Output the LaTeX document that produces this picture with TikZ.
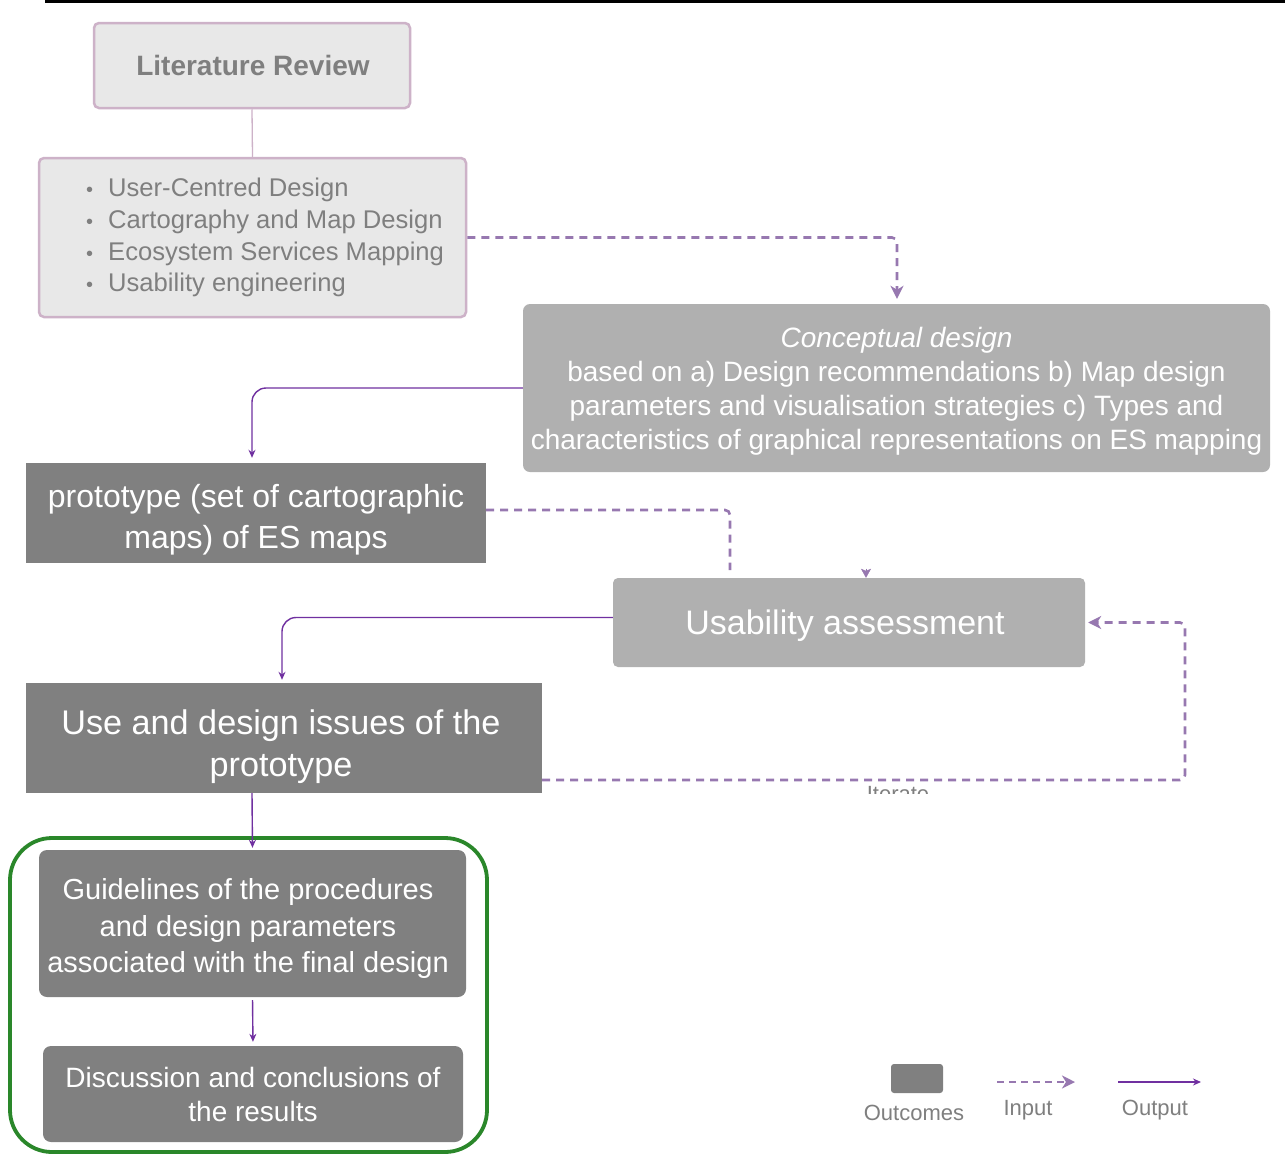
\documentclass[tikz,border=0pt]{standalone}
\usepackage{fontspec}
\setmainfont{Liberation Sans}
\usetikzlibrary{arrows.meta}
\definecolor{litfill}{HTML}{E8E8E8}
\definecolor{litedge}{HTML}{CDB2C8}
\definecolor{softtext}{HTML}{7F7F7F}
\definecolor{midgray}{HTML}{B0B0B0}
\definecolor{deepgray}{HTML}{808080}
\definecolor{outpurple}{HTML}{7030A0}
\definecolor{inpurple}{HTML}{9778B0}
\definecolor{groupgreen}{HTML}{2A872A}
\newcommand{\fs}[2]{\fontsize{#1}{#2}\selectfont}
\begin{document}
\begin{tikzpicture}[x=1pt,y=-1pt,
  litbox/.style={draw=litedge, line width=2.5pt, fill=litfill, rounded corners=5pt, inner sep=0pt},
  lightbox/.style={fill=midgray, rounded corners=7pt, inner sep=0pt},
  deepbox/.style={fill=deepgray, inner sep=0pt},
  boxlabel/.style={text=white, align=center, inner sep=0pt},
  inarrow/.style={draw=inpurple, line width=2.6pt, dash pattern=on 8pt off 6pt, rounded corners=5pt,
                  -{Stealth[length=13pt,width=13pt,inset=4pt]}},
  outarrow/.style={draw=outpurple, line width=1.4pt, rounded corners=14pt,
                   -{Stealth[length=8pt,width=7pt]}},
  legtext/.style={text=softtext, font=\fs{22}{24}, inner sep=0pt}
]
\useasboundingbox (0,0) rectangle (1285,1157);
\fill[white] (0,0) rectangle (1285,1157);
% top rule
\fill[black] (45,0) rectangle (1285,3);

% outcome group frame
\draw[groupgreen, line width=3.8pt, rounded corners=42pt] (10,838) rectangle (487,1152);

% literature boxes
\node[litbox, minimum width=316pt, minimum height=85pt] (lit) at (252,65.5) {};
\node[text=softtext, font=\bfseries\fs{28}{30}, inner sep=0pt] (littitle) at (253,65.5) {Literature Review};
\node[litbox, minimum width=427pt, minimum height=159pt] (topics) at (252.5,237.5) {};
\node[text=softtext, font=\fs{25.6}{31.7}, inner sep=0pt, anchor=west, align=left] (topiclist) at (86,238)
  {\begin{tabular}{@{}l@{\hspace{15pt}}l@{}}
   {\fs{20}{31.7}\textbullet} & User-Centred Design\\
   {\fs{20}{31.7}\textbullet} & Cartography and Map Design\\
   {\fs{20}{31.7}\textbullet} & Ecosystem Services Mapping\\
   {\fs{20}{31.7}\textbullet} & Usability engineering
   \end{tabular}};

% process boxes
\node[lightbox, minimum width=747pt, minimum height=168pt] (concept) at (896.5,388) {};
\node[boxlabel, font=\fs{28}{34}] (conceptlabel) at (896.5,391)
  {\itshape Conceptual design\\
   based on a) Design recommendations b) Map design\\
   parameters and visualisation strategies c) Types and\\
   characteristics of graphical representations on ES mapping};
\node[deepbox, minimum width=460pt, minimum height=100pt] (proto) at (256,513) {};
\node[boxlabel, font=\fs{32}{41}] (protolabel) at (256,520)
  {prototype (set of cartographic\\ maps) of ES maps};
\node[lightbox, rounded corners=5pt, minimum width=472pt, minimum height=89pt] (usab) at (849,622.5) {};
\node[boxlabel, font=\fs{34}{40}] (usablabel) at (845,626) {Usability assessment};
\node[deepbox, minimum width=516pt, minimum height=110pt] (issues) at (284,738) {};
\node[boxlabel, font=\fs{34.2}{42}] (issueslabel) at (281,747)
  {Use and design issues of the\\ prototype};
\node[deepbox, rounded corners=8pt, minimum width=427pt, minimum height=147pt] (guide) at (252.5,923.5) {};
\node[boxlabel, font=\fs{29}{36.5}] (guidelabel) at (248,928.5)
  {Guidelines of the procedures\\ and design parameters\\ associated with the final design};
\node[deepbox, rounded corners=8pt, minimum width=420pt, minimum height=96pt] (disc) at (253,1094) {};
\node[boxlabel, font=\fs{28}{34}] (disclabel) at (253,1094)
  {Discussion and conclusions of\\ the results};

% iteration label, partly hidden below the loop
\begin{scope}
  \clip (820,770) rectangle (980,793);
  \node[text=softtext, font=\fs{22}{24}, inner sep=0pt, anchor=base] (iter) at (898,801) {Iterate};
\end{scope}

% connectors
\draw[litedge, line width=1.3pt] (lit.south) -- (topics.north);
\draw[inarrow, shorten >=5pt] (topics.east) -| ([xshift=0.5pt]concept.north);
\draw[outarrow, shorten >=5pt] (concept.west) -| ([xshift=-4pt]proto.north);
\coordinate (drop) at (730,570);
\draw[inarrow, -] ([yshift=3pt]proto.east) -| (drop);
\draw[draw=inpurple, line width=0.5pt, -{Stealth[length=9pt,width=10pt,inset=2pt]}, fill=inpurple]
  ([xshift=17pt, yshift=9pt]usab.north) -- ([xshift=17pt]usab.north);
\draw[outarrow, shorten >=3pt] ([yshift=5pt]usab.west) -| ([xshift=-2pt]issues.north);
\coordinate (loopcorner) at (1185,780);
\draw[inarrow, shorten >=3pt] ([yshift=-42pt]issues.east) -- (loopcorner) |- (usab.east);
\draw[outarrow, shorten >=2pt] ([xshift=-32pt]issues.south) -- (guide.north);
\draw[outarrow, shorten >=4pt, shorten <=3pt] (guide.south) -- (disc.north);

% legend
\node[fill=deepgray, rounded corners=3pt, minimum width=52pt, minimum height=29pt, inner sep=0pt] (legbox) at (917,1078.5) {};
\node[legtext, anchor=base] (legout) at (914,1120) {Outcomes};
\coordinate (inA) at (997,1082);
\coordinate (inB) at (1075,1082);
\draw[inarrow, line width=2.2pt, dash pattern=on 7pt off 5pt] (inA) -- (inB);
\node[legtext, anchor=base] (legin) at (1028,1115) {Input};
\coordinate (outA) at (1118,1082);
\coordinate (outB) at (1201,1082);
\draw[outarrow] (outA) -- (outB);
\node[legtext, anchor=base] (legoutput) at (1155,1115) {Output};
\end{tikzpicture}
\end{document}
